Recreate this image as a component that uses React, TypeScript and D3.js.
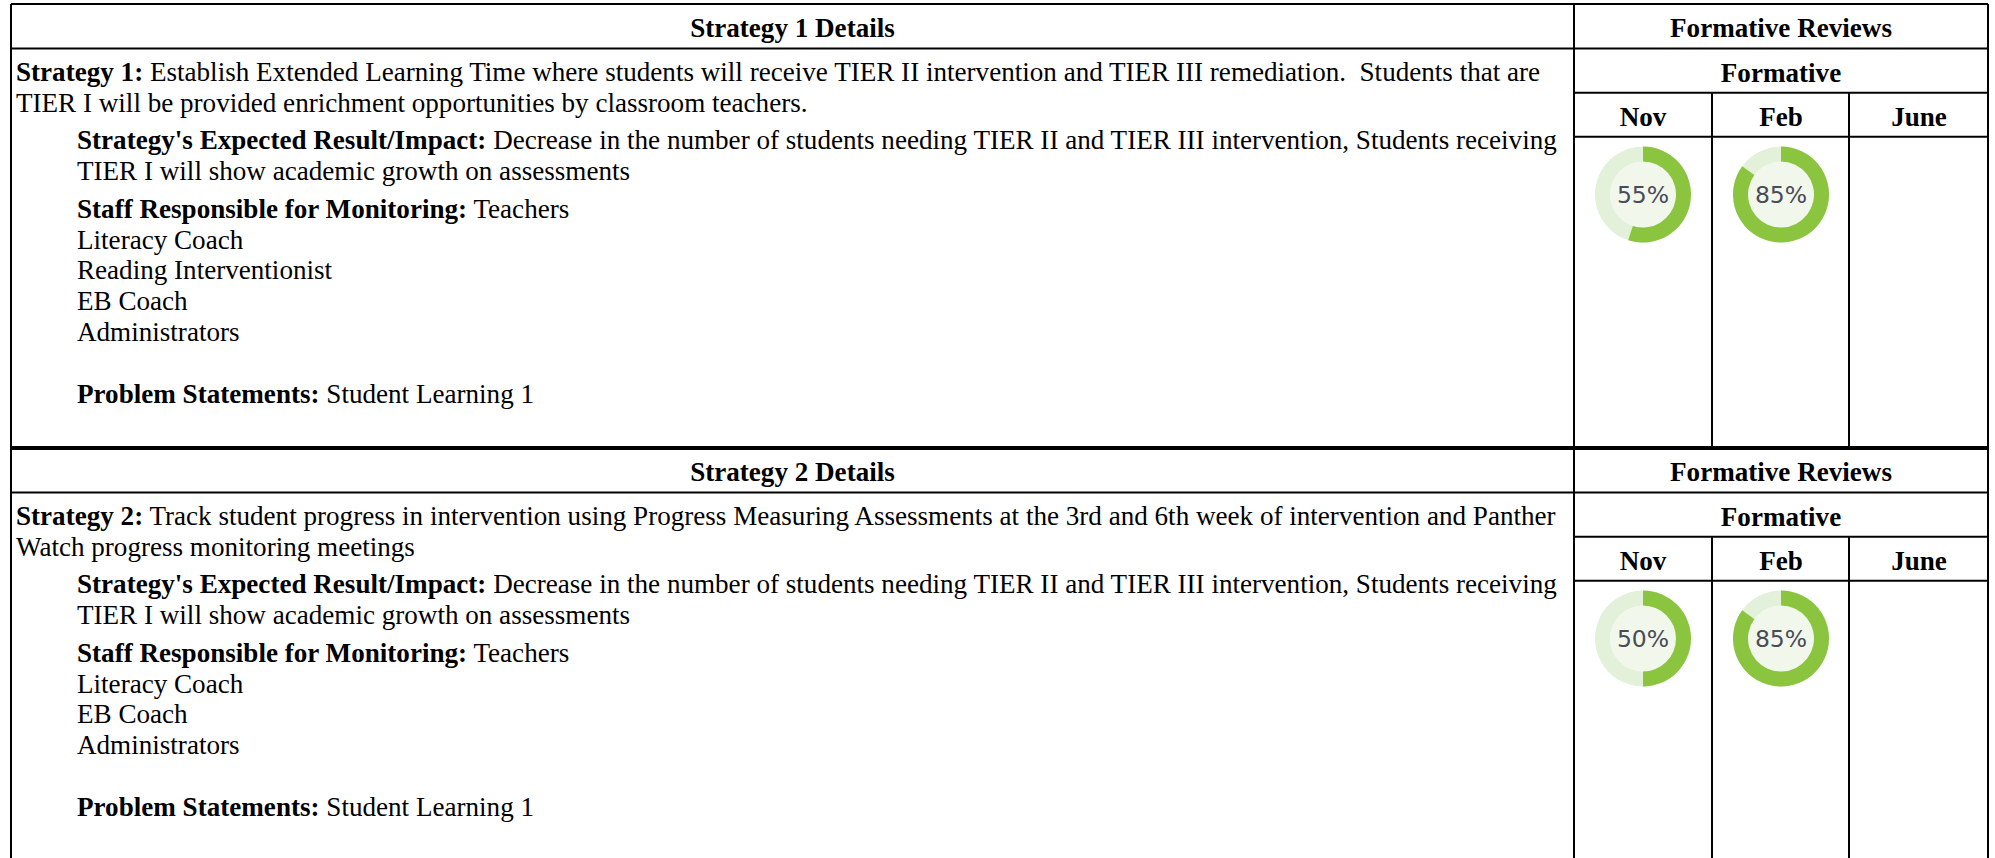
import React, { useEffect, useRef } from 'react';
import * as d3 from 'd3';

// review columns and the percent read off each donut (null = no review yet)
const months = ['Nov', 'Feb', 'June'];
const strategy1Reviews = [55, 85, null];
const strategy2Reviews = [50, 85, null];

const strategy1Text = [
  'Establish Extended Learning Time where students will receive TIER II intervention and TIER III remediation.  Students that are',
  'TIER I will be provided enrichment opportunities by classroom teachers.',
];
const strategy2Text = [
  'Track student progress in intervention using Progress Measuring Assessments at the 3rd and 6th week of intervention and Panther',
  'Watch progress monitoring meetings',
];
const expectedText = [
  'Decrease in the number of students needing TIER II and TIER III intervention, Students receiving',
  'TIER I will show academic growth on assessments',
];
const staff1 = ['Teachers', 'Literacy Coach', 'Reading Interventionist', 'EB Coach', 'Administrators'];
const staff2 = ['Teachers', 'Literacy Coach', 'EB Coach', 'Administrators'];
const problemText = 'Student Learning 1';

const strategies = [
  { title: 'Strategy 1 Details', label: 'Strategy 1:', text: strategy1Text, staff: staff1, reviews: strategy1Reviews },
  { title: 'Strategy 2 Details', label: 'Strategy 2:', text: strategy2Text, staff: staff2, reviews: strategy2Reviews },
];

const W = 1995, H = 858;
const left = 11, right = 1988, split = 1574;
const colEdges = [1574, 1712, 1849, 1988];
const sectionH = 444;
const serif = '"Liberation Serif", "Times New Roman", serif';
const fs = 27.1;
const lineH = 30.9;
const paraGap = 6.5;

function App() {
  const ref = useRef<SVGSVGElement>(null);

  useEffect(() => {
    const svg = d3.select(ref.current);
    svg.selectAll('*').remove();

    const arc = d3.arc<any>().innerRadius(33).outerRadius(48);
    const x = d3.scaleBand().domain(months).range([colEdges[0], colEdges[3]]);

    strategies.forEach((s, i) => {
      const top = 4 + i * sectionH;
      const bottom = i < strategies.length - 1 ? top + sectionH : H + 10;
      const g = svg.append('g').attr('transform', `translate(0,${top})`);
      const hb = bottom - top;

      // grid lines
      const line = (x1: number, y1: number, x2: number, y2: number, w = 2) =>
        g.append('line').attr('x1', x1).attr('y1', y1).attr('x2', x2).attr('y2', y2)
          .attr('stroke', '#000').attr('stroke-width', w);
      line(left, 0, left, hb);
      line(right, 0, right, hb);
      line(split, 0, split, hb);
      line(left, 0, right, 0, i === 0 ? 2 : 4);
      line(left, 44.5, right, 44.5);
      line(split, 88.7, right, 88.7);
      line(split, 132.7, right, 132.7);
      line(colEdges[1], 88.7, colEdges[1], hb);
      line(colEdges[2], 88.7, colEdges[2], hb);

      const txt = (tx: number, ty: number, anchor = 'start') =>
        g.append('text').attr('x', tx).attr('y', ty).attr('text-anchor', anchor)
          .attr('font-family', serif).attr('font-size', fs).attr('fill', '#000')
          .style('white-space', 'pre');

      txt((left + split) / 2, 32.5, 'middle').attr('font-weight', 'bold').text(s.title);
      txt((split + right) / 2, 32.5, 'middle').attr('font-weight', 'bold').text('Formative Reviews');
      txt((split + right) / 2, 77.5, 'middle').attr('font-weight', 'bold').text('Formative');
      months.forEach((m) => {
        txt(x(m)! + x.bandwidth() / 2, 121.5, 'middle').attr('font-weight', 'bold').text(m);
      });

      // left column text
      let y = 77;
      const labeled = (tx: number, ty: number, label: string, rest: string) => {
        const t = txt(tx, ty);
        t.append('tspan').attr('font-weight', 'bold').text(label);
        t.append('tspan').text(' ' + rest);
      };
      labeled(16, y, s.label, s.text[0]);
      s.text.slice(1).forEach((l) => { y += lineH; txt(16, y).text(l); });
      y += lineH + paraGap;
      labeled(77, y, "Strategy's Expected Result/Impact:", expectedText[0]);
      expectedText.slice(1).forEach((l) => { y += lineH; txt(77, y).text(l); });
      y += lineH + paraGap;
      labeled(77, y, 'Staff Responsible for Monitoring:', s.staff[0]);
      s.staff.slice(1).forEach((l) => { y += lineH; txt(77, y).text(l); });
      y += lineH * 2;
      labeled(77, y, 'Problem Statements:', problemText);

      // donuts
      s.reviews.forEach((v, j) => {
        if (v == null) return;
        const cx = x(months[j])! + x.bandwidth() / 2;
        const d = g.append('g').attr('transform', `translate(${cx},190.5)`);
        d.append('circle').attr('r', 33).attr('fill', '#f1f8eb');
        d.append('path').attr('d', arc({ startAngle: 0, endAngle: 2 * Math.PI })).attr('fill', '#e3f0da');
        d.append('path').attr('d', arc({ startAngle: 0, endAngle: (2 * Math.PI * v) / 100 })).attr('fill', '#8bc53f');
        d.append('text').attr('text-anchor', 'middle').attr('dy', '0.36em')
          .attr('font-family', '"DejaVu Sans", Verdana, sans-serif').attr('font-size', 23.5)
          .attr('fill', '#4a4a58').text(v + '%');
      });
    });
  }, []);

  return (
    <svg ref={ref} width={W} height={H}
      style={{ position: 'absolute', left: 0, top: 0, background: '#fff' }} />
  );
}

export default App;
